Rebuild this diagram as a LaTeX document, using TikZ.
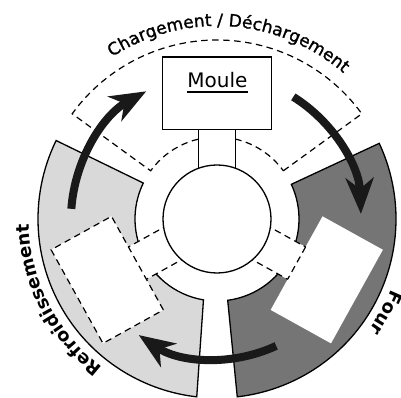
\documentclass[tikz,border=0pt]{standalone}
\usepackage{fontspec}
\setmainfont{DejaVu Sans}
\newfontfamily\lblfont{DejaVu Sans}
\newfontfamily\lblfontmid[FakeBold=1.3]{DejaVu Sans}
\usetikzlibrary{arrows.meta,decorations.text}
\definecolor{lightseg}{gray}{0.85}
\definecolor{darkseg}{gray}{0.46}
\definecolor{arrowcol}{gray}{0.10}
\begin{document}
\begin{tikzpicture}[x=1pt,y=1pt,
  segline/.style={draw=black, line width=1.3pt},
  dashline/.style={draw=black, line width=1.2pt, dash pattern=on 6.5pt off 4.5pt},
  solidline/.style={draw=black, line width=1.2pt},
  bigarrow/.style={line width=8pt, draw=arrowcol, -{Stealth[length=36pt,width=28pt,inset=11pt]}},
  txtpath/.style={decorate, decoration={text along path, text align=center, text={#1}}}
]
\useasboundingbox (0,0) rectangle (401,398);
\begin{scope}[shift={(217,179)}]
  % coloured zones
  \draw[segline, fill=lightseg] (154:82) -- (154:179) arc[start angle=154, end angle=263.5, radius=179]
        -- (260.5:82) arc[start angle=260.5, end angle=154, radius=82] -- cycle;
  \draw[segline, fill=darkseg] (25:82) -- (25:179) arc[start angle=25, end angle=-83.5, radius=179]
        -- (-82.5:82) arc[start angle=-82.5, end angle=25, radius=82] -- cycle;
  % loading zone (dashed)
  \draw[dashline] (36:82) -- (36:179) arc[start angle=36, end angle=144, radius=179]
        -- (144:82) arc[start angle=144, end angle=36, radius=82] -- cycle;
  % left arm (cooling)
  \begin{scope}[rotate=119]
    \fill[white] (-18.5,40) -- (18.5,40) -- (18.5,92) -- (-18.5,92) -- cycle;
    \draw[dashline, fill=white] (-53.5,91) -- (53.5,91) -- (53.5,160) -- (-53.5,160) -- cycle;
    \draw[dashline] (-18.5,45) -- (-18.5,91) (18.5,45) -- (18.5,91);
  \end{scope}
  % right arm (oven)
  \begin{scope}[rotate=241]
    \fill[white] (-18.5,40) -- (18.5,40) -- (18.5,92) -- (-18.5,92) -- cycle;
    \fill[white] (-53.5,91) -- (53.5,91) -- (53.5,160) -- (-53.5,160) -- cycle;
    \draw[dashline] (-18.5,91) -- (18.5,91);
    \draw[dashline] (-18.5,45) -- (-18.5,91) (18.5,45) -- (18.5,91);
  \end{scope}
  % top arm with mould
  \draw[solidline, fill=white] (-18.5,45) rectangle (18.5,89.5);
  \draw[solidline, fill=white] (-54.5,89.5) rectangle (54.5,162);
  \node[inner sep=0pt, anchor=base, font=\fontsize{20}{20}\selectfont] (moule) at (0.5,131) {Moule};
  \draw[line width=1.1pt] ([yshift=-4pt]moule.base west) -- ([yshift=-4pt]moule.base east);
  % hub
  \draw[segline, fill=white] (0,0) circle[radius=54];
  % arrows
  \coordinate (a1s) at (176:146);
  \coordinate (a2s) at (58:144);
  \coordinate (a3s) at (-65:140);
  \draw[bigarrow] (a1s) arc[start angle=176, end angle=119, radius=146];
  \draw[bigarrow] (a2s) arc[start angle=58, end angle=2, radius=144];
  \draw[bigarrow] (a3s) arc[start angle=-65, end angle=-124, radius=140];
  % labels along the rim
  \path[txtpath={|\lblfontmid\fontsize{17}{17}\selectfont|Chargement / Déchargement}]
        (152:193) arc[start angle=152, end angle=20, radius=193];
  \path[txtpath={|\lblfont\bfseries\fontsize{18}{18}\selectfont|Refroidissement}]
        (240:188) arc[start angle=240, end angle=174, radius=188];
  \path[txtpath={|\lblfont\bfseries\fontsize{18}{18}\selectfont|Four}]
        (-8:188) arc[start angle=-8, end angle=-50, radius=188];
\end{scope}
\end{tikzpicture}
\end{document}
